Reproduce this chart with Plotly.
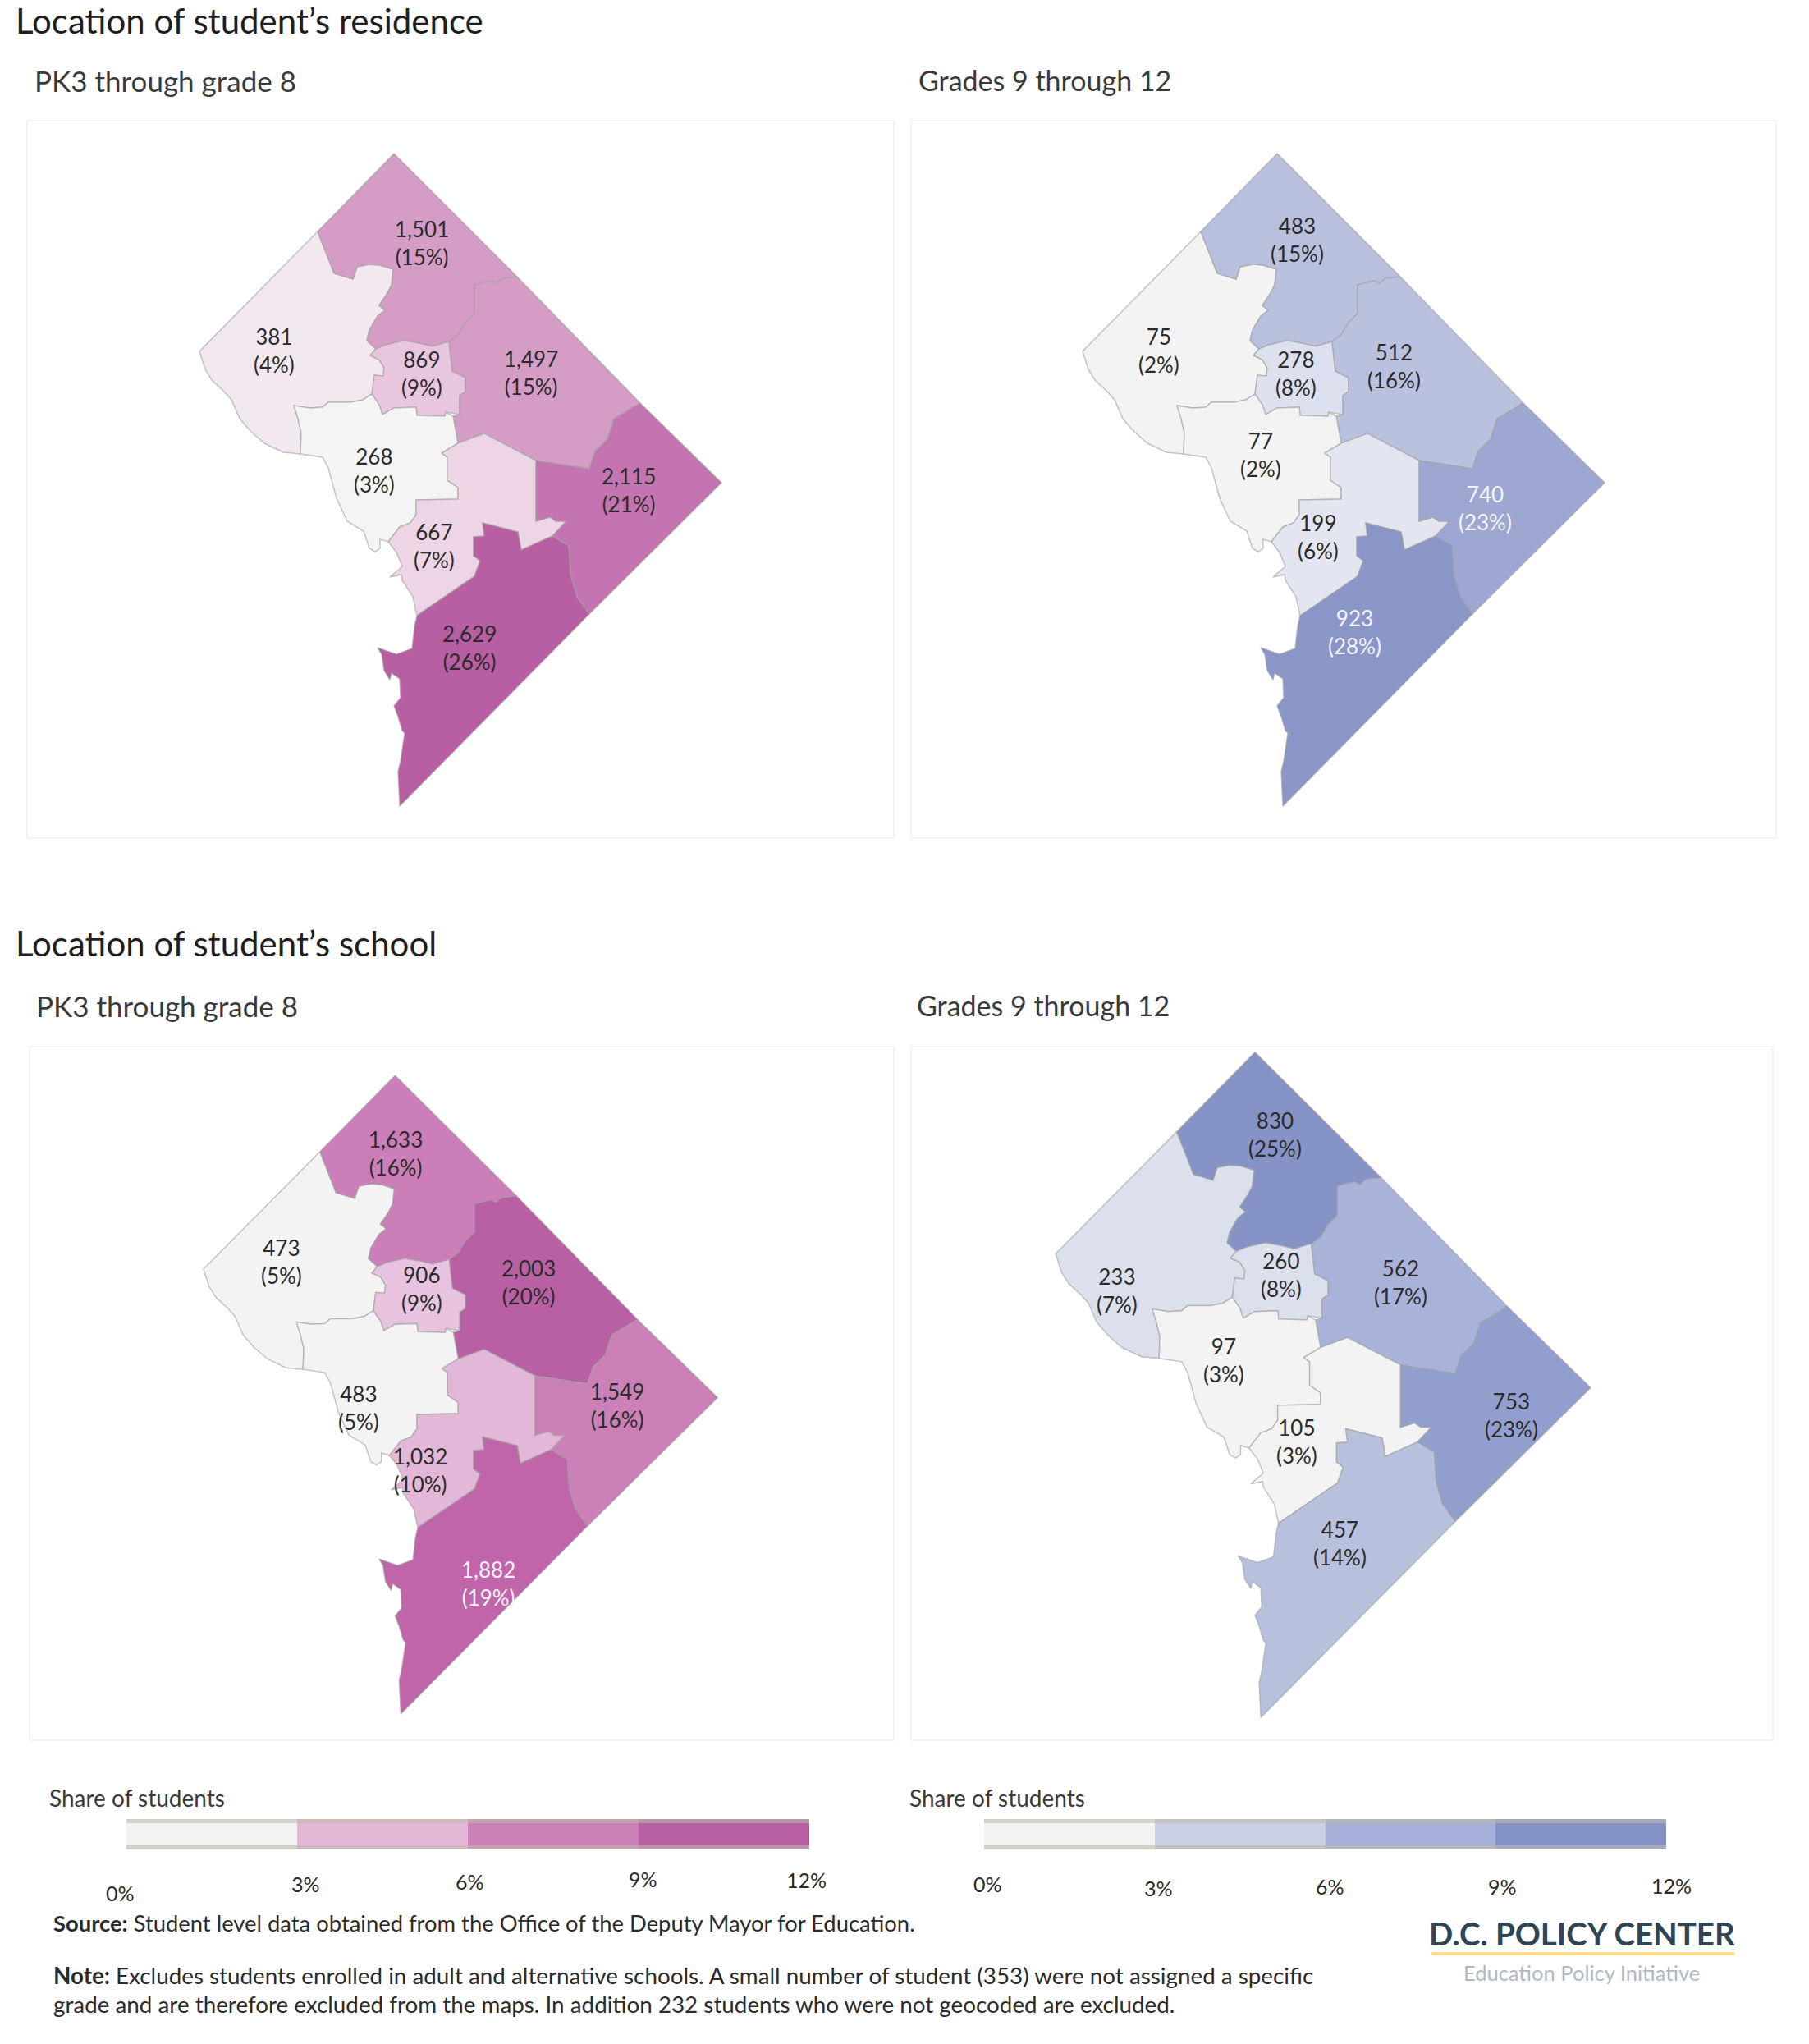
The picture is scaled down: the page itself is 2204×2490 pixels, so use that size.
"""Student counts by ward, DC: four choropleth-style panels drawn as filled polygons."""
import plotly.graph_objects as go

# page size and the scale between the layout sketch and the page
W, H = 2204, 2490
K = 1.59
FONT = "Lato"
INK = "#2b2b2b"

ward_order = ["Ward 3", "Ward 4", "Ward 1", "Ward 5", "Ward 2", "Ward 6", "Ward 7", "Ward 8"]

# ward outlines in map units (y grows downward)
ward_3_x = [387, 407, 430, 435, 450, 463, 479, 477, 472, 462, 469, 460, 450, 447, 458, 451, 462, 468, 467, 456, 453, 442, 427, 400, 393, 377, 358, 363, 367, 366, 345, 322, 305, 292, 282, 273, 258, 250, 243]
ward_3_y = [282, 333, 340, 325, 322, 323, 328, 347, 357, 372, 378, 385, 402, 415, 425, 433, 438, 448, 458, 457, 480, 487, 490, 490, 496, 497, 494, 510, 527, 553, 551, 540, 525, 510, 487, 477, 463, 450, 428]
ward_4_x = [480, 630, 612, 605, 598, 578, 578, 567, 558, 547, 527, 510, 492, 470, 458, 447, 450, 460, 469, 462, 472, 477, 479, 463, 450, 435, 430, 407, 387]
ward_4_y = [187, 337, 339, 345, 342, 347, 382, 393, 408, 416, 422, 418, 415, 420, 425, 415, 402, 385, 378, 372, 357, 347, 328, 323, 322, 325, 340, 333, 282]
ward_1_x = [458, 470, 492, 510, 527, 547, 551, 567, 567, 560, 560, 543, 542, 508, 507, 480, 466, 462, 453, 456, 467, 468, 462, 451]
ward_1_y = [425, 420, 415, 418, 422, 416, 452, 460, 477, 482, 505, 502, 507, 506, 496, 497, 505, 493, 480, 457, 458, 448, 438, 433]
ward_5_x = [630, 780, 760, 748, 740, 725, 718, 653, 590, 558, 552, 560, 560, 567, 567, 551, 547, 558, 567, 578, 578, 598, 605, 612]
ward_5_y = [337, 491, 503, 510, 535, 550, 571, 561, 528, 540, 507, 505, 482, 477, 460, 452, 416, 408, 393, 382, 347, 342, 345, 339]
ward_2_x = [358, 377, 393, 400, 427, 442, 453, 462, 466, 480, 507, 508, 542, 543, 552, 558, 538, 545, 545, 558, 558, 507, 507, 500, 487, 473, 463, 463, 457, 450, 443, 423, 410, 400, 393, 366, 367, 363]
ward_2_y = [494, 497, 496, 490, 490, 487, 480, 493, 505, 497, 496, 506, 507, 502, 507, 540, 552, 557, 585, 594, 608, 609, 627, 637, 642, 660, 657, 668, 672, 668, 647, 635, 607, 570, 557, 553, 527, 510]
ward_6_x = [538, 558, 590, 653, 653, 670, 677, 690, 673, 635, 631, 588, 590, 577, 577, 585, 578, 508, 503, 490, 489, 475, 490, 483, 473, 487, 500, 507, 507, 558, 558, 545, 545]
ward_6_y = [552, 540, 528, 561, 635, 630, 635, 635, 653, 670, 648, 637, 653, 654, 677, 683, 702, 750, 727, 707, 700, 703, 690, 673, 660, 642, 637, 627, 609, 608, 594, 585, 557]
ward_7_x = [780, 879, 718, 703, 695, 693, 673, 690, 677, 670, 653, 653, 718, 725, 740, 748, 760]
ward_7_y = [491, 588, 748, 727, 700, 665, 653, 635, 635, 630, 635, 561, 571, 550, 535, 510, 503]
ward_8_x = [508, 578, 585, 577, 577, 590, 588, 631, 635, 673, 693, 695, 703, 718, 487, 485, 488, 493, 490, 485, 480, 488, 487, 477, 475, 468, 465, 460, 483, 502, 505]
ward_8_y = [750, 702, 683, 677, 654, 653, 637, 648, 670, 653, 665, 700, 727, 748, 982, 940, 927, 893, 890, 873, 860, 850, 827, 820, 828, 817, 797, 789, 797, 790, 763]

ward_xs = [ward_3_x, ward_4_x, ward_1_x, ward_5_x, ward_2_x, ward_6_x, ward_7_x, ward_8_x]
ward_ys = [ward_3_y, ward_4_y, ward_1_y, ward_5_y, ward_2_y, ward_6_y, ward_7_y, ward_8_y]

# counts and shares, in ward_order
residence_pk8_counts = [381, 1501, 869, 1497, 268, 667, 2115, 2629]
residence_pk8_shares = [4, 15, 9, 15, 3, 7, 21, 26]
residence_hs_counts = [75, 483, 278, 512, 77, 199, 740, 923]
residence_hs_shares = [2, 15, 8, 16, 2, 6, 23, 28]
school_pk8_counts = [473, 1633, 906, 2003, 483, 1032, 1549, 1882]
school_pk8_shares = [5, 16, 9, 20, 5, 10, 16, 19]
school_hs_counts = [233, 830, 260, 562, 97, 105, 753, 457]
school_hs_shares = [7, 25, 8, 17, 3, 3, 23, 14]

legend_breaks = [0, 3, 6, 9, 12]
legend_tick_labels = ["0%", "3%", "6%", "9%", "12%"]
legend_pink = ["#f3f3f3", "#e3b7d6", "#cb81b8", "#b95fa3"]
legend_blue = ["#f3f3f3", "#c9cfe4", "#a6b0d8", "#8592c6"]

panels = [
    dict(counts=residence_pk8_counts, shares=residence_pk8_shares,
         colors=["#f1e8f0", "#d59dc6", "#e9c6df", "#d59dc6", "#f4f4f4", "#edd5e6", "#c474b0", "#b85ea2"],
         box=(34, 148, 1088, 1020), xf=(1.0, 0.0, 1.0, 0.0), white=[],
         labels=[(210, 270), (323, 188), (323, 288), (407, 287), (287, 362), (333, 420), (482, 377), (360, 498)]),
    dict(counts=residence_hs_counts, shares=residence_hs_shares,
         colors=["#f3f3f3", "#b9c0dd", "#dde0ee", "#b9c1de", "#f3f3f3", "#e3e6f0", "#9ea7d2", "#8a95c8"],
         box=(1111, 148, 2163, 1020), xf=(1.0, 1076.0, 1.0, 0.0), white=[6, 7],
         labels=[(888, 270), (994, 185), (993, 288), (1068, 282), (966, 350), (1010, 413), (1138, 391), (1038, 486)]),
    dict(counts=school_pk8_counts, shares=school_pk8_shares,
         colors=["#f3f3f3", "#cb7eb7", "#e8c3df", "#b95fa3", "#f3f3f3", "#e3b7d7", "#cb80b8", "#c065a9"],
         box=(37, 1276, 1088, 2119), xf=(0.985, 8.6, 0.9786, 1127.0), white=[7],
         labels=[(216, 968), (303, 885), (323, 989), (405, 984), (275, 1080), (322, 1128), (473, 1078), (374, 1215)]),
    dict(counts=school_hs_counts, shares=school_hs_shares,
         colors=["#dcdfec", "#8693c7", "#dcdfec", "#a9b3da", "#f3f3f3", "#f3f3f3", "#929ecd", "#b7c0dd"],
         box=(1111, 1276, 2159, 2119), xf=(1.025, 1037.0, 1.0195, 1091.0), white=[],
         labels=[(856, 990), (977, 871), (982, 978), (1073, 984), (938, 1044), (994, 1106), (1158, 1086), (1027, 1184)]),
]


def px_x(x):
    return x / W


def px_y(y):
    return 1 - y / H


def note(text, x, y, size, color=INK, anchor="left"):
    """Text placed by sketch coordinates, vertically centred."""
    nudge = 2.5 if anchor == "left" else 0
    return dict(text=text, x=px_x(x * K - nudge), y=px_y(y * K - 2.5), xref="paper", yref="paper",
                xanchor=anchor, yanchor="middle", showarrow=False, align=anchor,
                font=dict(family=FONT, size=size, color=color))


fig = go.Figure()
layout = {}
annotations = []
shapes = []

for i, panel in enumerate(panels):
    n = "" if i == 0 else str(i + 1)
    x0, y0, x1, y1 = panel["box"]
    sx, ax, sy, ay = panel["xf"]
    axis_style = dict(showgrid=False, zeroline=False, showticklabels=False, ticks="",
                      showline=True, mirror=True, linecolor="#f3f3f3", linewidth=2)
    layout[f"xaxis{n}"] = dict(domain=[px_x(x0), px_x(x1)], anchor=f"y{n}",
                               range=[(x0 - ax) / sx, (x1 - ax) / sx], **axis_style)
    layout[f"yaxis{n}"] = dict(domain=[px_y(y1), px_y(y0)], anchor=f"x{n}",
                               range=[(y1 - ay) / sy, (y0 - ay) / sy], **axis_style)

    for w, name in enumerate(ward_order):
        fig.add_trace(go.Scatter(
            x=ward_xs[w] + ward_xs[w][:1],
            y=ward_ys[w] + ward_ys[w][:1],
            mode="lines",
            fill="toself",
            fillcolor=panel["colors"][w],
            line=dict(color="rgba(160,160,160,0.6)", width=1.5),
            name=name,
            hoverinfo="name",
            showlegend=False,
            xaxis=f"x{n}",
            yaxis=f"y{n}",
        ))

    for w, (lx, ly) in enumerate(panel["labels"]):
        color = "#f4f4f8" if w in panel["white"] else INK
        text = f"{panel['counts'][w]:,}<br>({panel['shares'][w]}%)"
        annotations.append(note(text, lx, ly, 26, color, "center"))

# legend bars: stacked segments on their own 0-12 axes
legend_bars = [
    dict(axis="5", colors=legend_pink, x=(154, 986), y=(2216, 2253)),
    dict(axis="6", colors=legend_blue, x=(1199, 2030), y=(2216, 2253)),
]
for bar in legend_bars:
    a = bar["axis"]
    layout[f"xaxis{a}"] = dict(domain=[px_x(bar["x"][0]), px_x(bar["x"][1])], anchor=f"y{a}",
                               range=[legend_breaks[0], legend_breaks[-1]], visible=False)
    layout[f"yaxis{a}"] = dict(domain=[px_y(bar["y"][1]), px_y(bar["y"][0])], anchor=f"x{a}",
                               range=[-0.5, 0.5], visible=False)
    for j, color in enumerate(bar["colors"]):
        fig.add_trace(go.Bar(
            x=[legend_breaks[j + 1] - legend_breaks[j]],
            y=[0],
            orientation="h",
            width=1,
            marker=dict(color=color, line_width=0),
            hoverinfo="skip",
            showlegend=False,
            xaxis=f"x{a}",
            yaxis=f"y{a}",
        ))
    # the beige bands along the top and bottom of each bar
    for band in ((2216, 2221), (2248, 2253)):
        shapes.append(dict(type="rect", xref="paper", yref="paper", layer="above",
                           x0=px_x(bar["x"][0]), x1=px_x(bar["x"][1]),
                           y0=px_y(band[1]), y1=px_y(band[0]),
                           fillcolor="rgba(190,185,170,0.6)", line_width=0))

legend_tick_pos = [
    [(92, 1452), (234, 1445), (360, 1443), (493, 1441), (618, 1442)],
    [(757, 1445), (888, 1448), (1019, 1447), (1151, 1447), (1281, 1446)],
]
for ticks in legend_tick_pos:
    for label, (tx, ty) in zip(legend_tick_labels, ticks):
        annotations.append(note(label, tx, ty, 25, INK, "center"))

annotations += [
    note("Location of student’s residence", 12, 17.5, 42, "#1f1f1f"),
    note("PK3 through grade 8", 27, 63, 35, "#3a3a3a"),
    note("Grades 9 through 12", 704, 63, 34, "#3a3a3a"),
    note("Location of student’s school", 12, 724, 42, "#1f1f1f"),
    note("PK3 through grade 8", 28, 772, 35, "#3a3a3a"),
    note("Grades 9 through 12", 703, 772, 34, "#3a3a3a"),
    note("Share of students", 38, 1379, 28, "#3a3a3a"),
    note("Share of students", 697, 1379, 28, "#3a3a3a"),
    note("<b>Source:</b> Student level data obtained from the Office of the Deputy Mayor for Education.", 41, 1475, 27.4),
    note("<b>Note:</b> Excludes students enrolled in adult and alternative schools. A small number of student (353) were not assigned a specific", 41, 1515, 27.8),
    note("grade and are therefore excluded from the maps. In addition 232 students who were not geocoded are excluded.", 41, 1537, 27.8),
    note("<b>D.C. POLICY CENTER</b>", 1212, 1483, 38.5, "#2f4554", "center"),
    note("Education Policy Initiative", 1212, 1513, 25.5, "#aeb9c5", "center"),
]

# yellow rule under the logotype
shapes.append(dict(type="line", xref="paper", yref="paper",
                   x0=px_x(1097 * K), x1=px_x(1329 * K), y0=px_y(1497 * K), y1=px_y(1497 * K),
                   line=dict(color="#fdd985", width=4)))

fig.update_layout(
    width=W,
    height=H,
    margin=dict(l=0, r=0, t=0, b=0),
    paper_bgcolor="white",
    plot_bgcolor="white",
    barmode="stack",
    annotations=annotations,
    shapes=shapes,
    font=dict(family=FONT),
    **layout,
)

# the page default body margin would shift the whole chart
fig.write_html("out.html", config={"displayModeBar": False},
               post_script="document.body.style.margin = '0';")
